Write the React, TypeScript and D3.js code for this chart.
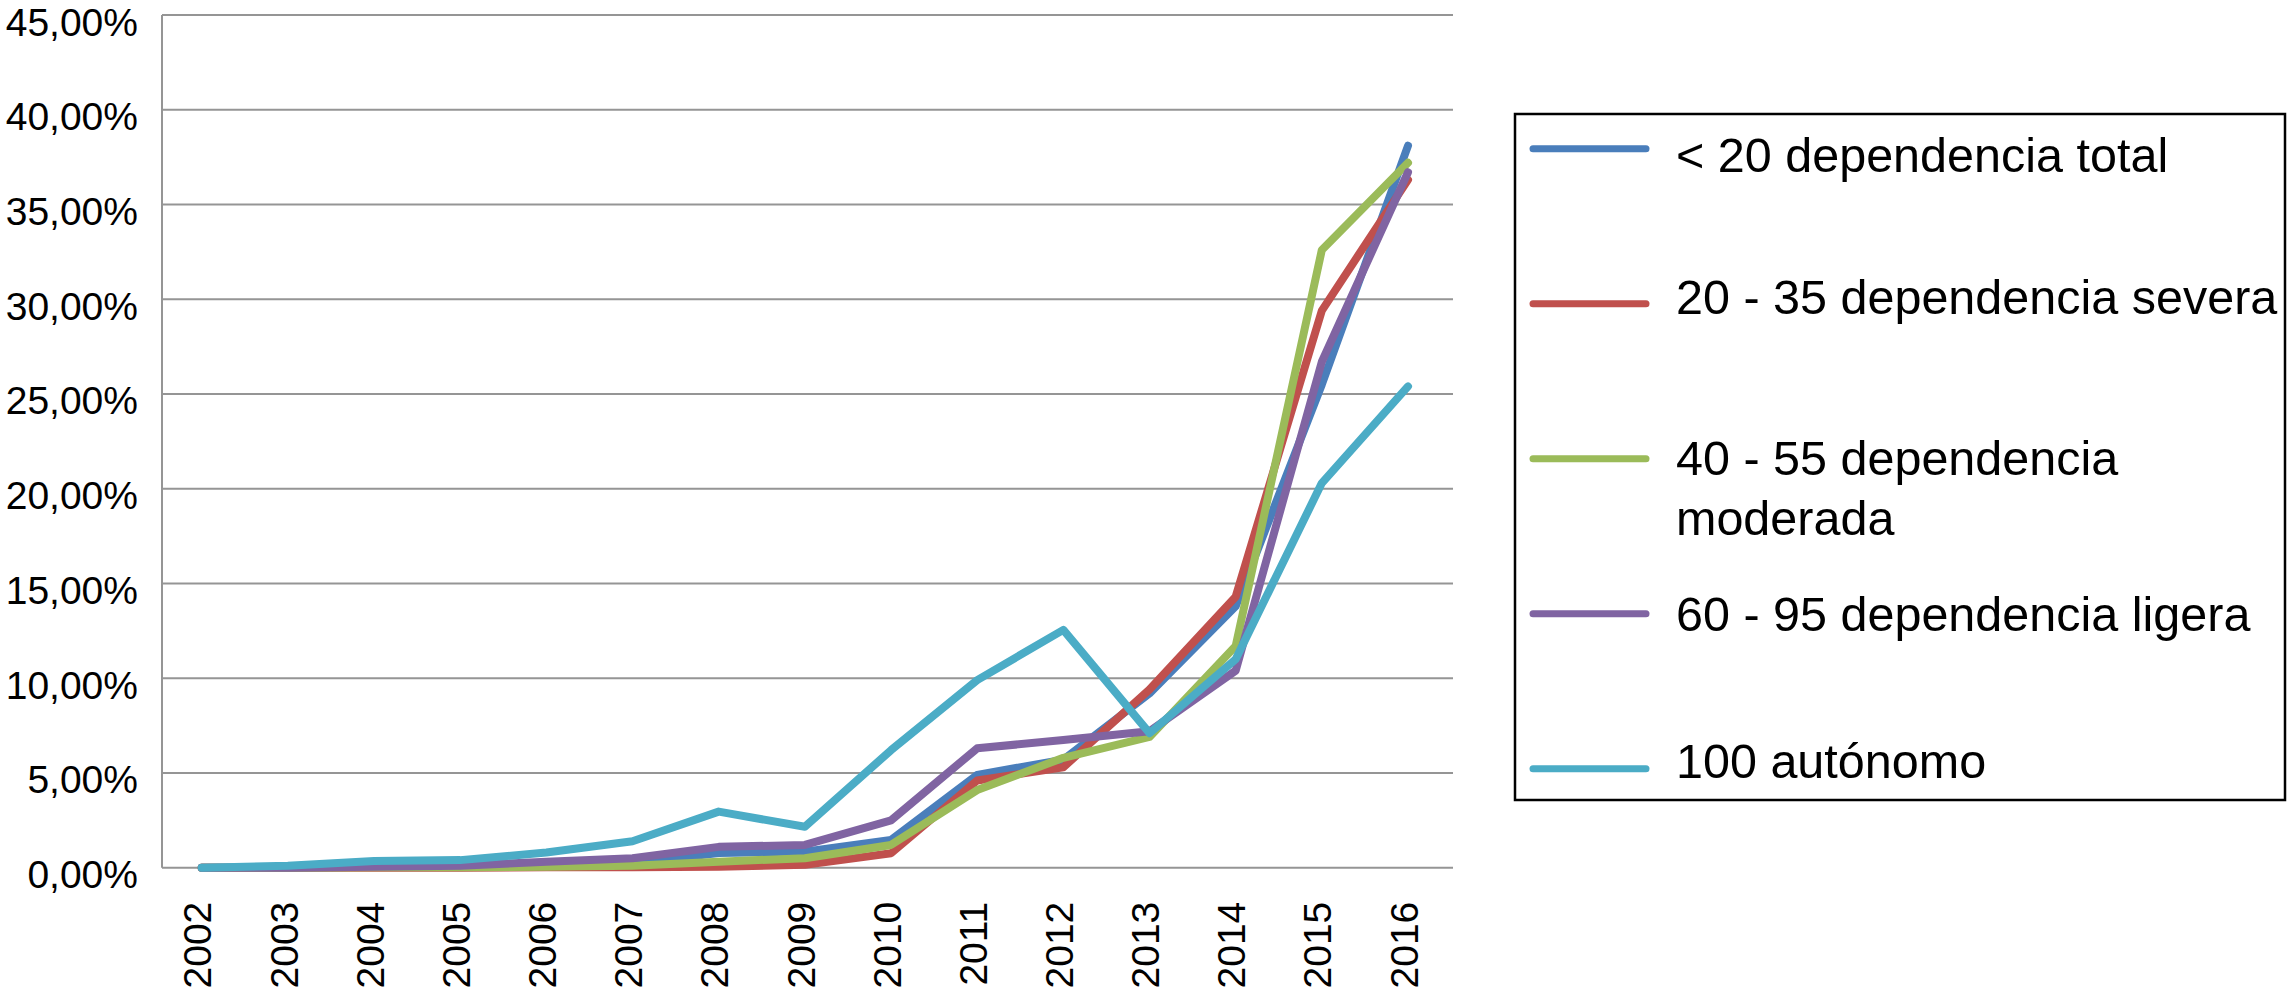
import React from "react";
import * as d3 from "d3";

const years = ["2002","2003","2004","2005","2006","2007","2008","2009","2010","2011","2012","2013","2014","2015","2016"];
const yTicks = [0, 5, 10, 15, 20, 25, 30, 35, 40, 45];

const seriesNames = [
  ["< 20 dependencia total"],
  ["20 - 35 dependencia severa"],
  ["40 - 55 dependencia", "moderada"],
  ["60 - 95 dependencia ligera"],
  ["100 autónomo"],
];
const seriesColors = ["#4a7ebb", "#c0504d", "#9bbb59", "#8064a2", "#4bacc6"];

const total =    [0, 0, 0.05, 0.05, 0.1, 0.25, 0.78, 0.85, 1.46, 4.9, 5.7, 9.2, 13.8, 25.5, 38.1];
const severa =   [0, 0, 0, 0, 0.02, 0.03, 0.05, 0.15, 0.76, 4.6, 5.3, 9.4, 14.3, 29.4, 36.3];
const moderada = [0, 0, 0.02, 0.03, 0.05, 0.1, 0.32, 0.5, 1.2, 4.1, 5.8, 6.9, 11.7, 32.6, 37.2];
const ligera =   [0, 0, 0.05, 0.1, 0.32, 0.5, 1.1, 1.2, 2.5, 6.3, 6.74, 7.2, 10.4, 26.7, 36.7];
const autonomo = [0, 0.1, 0.35, 0.4, 0.8, 1.4, 2.96, 2.16, 6.2, 9.9, 12.55, 7.1, 11.0, 20.3, 25.4];

const seriesValues = [total, severa, moderada, ligera, autonomo];

const W = 2289, H = 993;
const plotLeft = 162, plotRight = 1453, plotTop = 15, plotBottom = 867.7;

export default function App() {
  const x = d3.scalePoint<string>().domain(years).range([201.7, 1408]);
  const y = d3.scaleLinear().domain([0, 45]).range([plotBottom, plotTop]);
  const line = d3.line<number>()
    .x((_, i) => x(years[i]) as number)
    .y((d) => y(d));

  const fmt = (v: number) => v.toFixed(2).replace(".", ",") + "%";

  const legendLineY = (i: number) => 148.8 + i * 155;
  const legendBaseOffsets = [23, 10, 16, 17, 9];

  return (
    <svg width={W} height={H} style={{ position: "absolute", left: 0, top: 0, background: "#fff" }}
      fontFamily="'Liberation Sans', Arial, Helvetica, sans-serif">
      <rect x={0} y={0} width={W} height={H} fill="#fff" />
      {yTicks.map((t) => (
        <line key={"g" + t} x1={plotLeft} x2={plotRight} y1={y(t)} y2={y(t)} stroke="#959595" strokeWidth={2} />
      ))}
      <line x1={plotLeft} x2={plotLeft} y1={plotTop} y2={plotBottom} stroke="#959595" strokeWidth={2} />
      {yTicks.map((t) => (
        <text key={"t" + t} x={138} y={y(t) + 20.5} textAnchor="end" fontSize={39} fill="#000">
          {fmt(t)}
        </text>
      ))}
      {years.map((yr) => (
        <text key={yr} transform={`translate(${(x(yr) as number) - 4},901.7) rotate(-90)`} dy="0.35em"
          textAnchor="end" fontSize={39} fill="#000">
          {yr}
        </text>
      ))}
      {seriesValues.map((vals, si) => (
        <path key={"s" + si} d={line(vals) || ""} fill="none" stroke={seriesColors[si]} strokeWidth={8}
          strokeLinejoin="round" strokeLinecap="round" />
      ))}
      <rect x={1515} y={114} width={770} height={686} fill="none" stroke="#000" strokeWidth={2.5} />
      {seriesNames.map((lines, i) => (
        <g key={"l" + i}>
          <line x1={1533} x2={1646} y1={legendLineY(i)} y2={legendLineY(i)} stroke={seriesColors[i]}
            strokeWidth={7} strokeLinecap="round" />
          {lines.map((ln, j) => (
            <text key={j} x={1676} y={legendLineY(i) + legendBaseOffsets[i] + j * 60.5}
              fontSize={48.5} fill="#000">
              {ln}
            </text>
          ))}
        </g>
      ))}
    </svg>
  );
}
